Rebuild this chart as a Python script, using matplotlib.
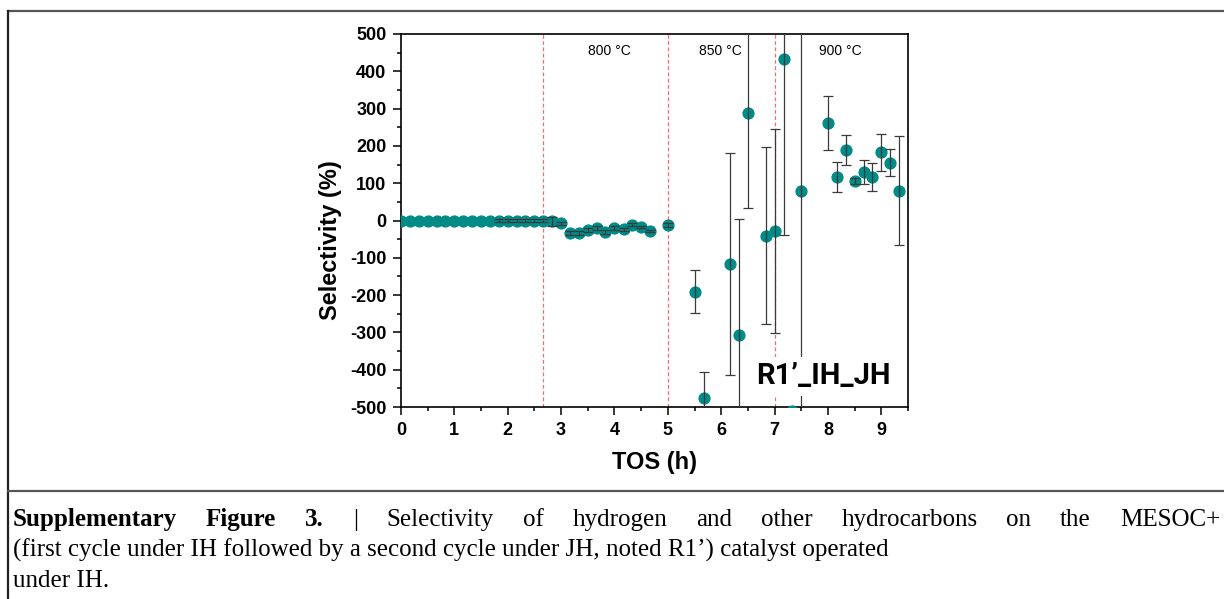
import matplotlib
matplotlib.use('Agg')
import matplotlib.pyplot as plt
from matplotlib.lines import Line2D
from matplotlib.ticker import MultipleLocator

plt.rcParams['axes.unicode_minus'] = False

# data
tos_h = [0.00, 0.17, 0.33, 0.50, 0.67, 0.83, 1.00, 1.17, 1.33, 1.50, 1.67,
         1.83, 2.00, 2.17, 2.33, 2.50, 2.67, 2.83, 3.00, 3.17, 3.33, 3.50,
         3.67, 3.83, 4.00, 4.17, 4.33, 4.50, 4.67, 5.00, 5.50, 5.67, 6.17,
         6.33, 6.50, 6.83, 7.00, 7.17, 7.33, 7.50, 8.00, 8.17, 8.33, 8.50,
         8.67, 8.83, 9.00, 9.17, 9.33]
selectivity = [0, 0, 0, 0, 0, 0, 0, 0, 0, 0, 0,
               0, 0, 0, 0, 0, 0, -2, -8, -33, -33, -26,
               -20, -30, -21, -24, -11, -18, -29, -12, -191, -475, -116,
               -306, 289, -41, -29, 433, -510, 79, 261, 116, 189, 107,
               130, 116, 183, 155, 80]
sel_err = [0, 0, 0, 0, 0, 0, 0, 0, 0, 0, 0,
           5, 5, 5, 5, 5, 5, 12, 4, 5, 5, 5,
           5, 5, 5, 5, 3, 3, 3, 6, 58, 70, 297,
           310, 255, 237, 273, 472, 0, 620, 73, 40, 40, 8,
           33, 37, 50, 36, 146]

step_changes = [2.67, 5.0, 7.0]
temp_labels = ['800 °C', '850 °C', '900 °C']
temp_label_x = [3.9, 5.98, 8.23]

caption_bold = 'Supplementary Figure 3.'
caption_lines = ['| Selectivity of hydrogen and other hydrocarbons on the MESOC+',
                 '(first cycle under IH followed by a second cycle under JH, noted R1’) catalyst operated',
                 'under IH.']

teal = '#008b87'
W, H = 1224, 599

fig = plt.figure(figsize=(12.24, 5.99), dpi=100)
ax = fig.add_axes([401/W, 1-407/H, 507/W, 373/H])

for xv in step_changes:
    ax.axvline(xv, color='#f07070', lw=0.9, ls=(0, (3, 2)), zorder=1)

ax.plot(tos_h, selectivity, 'o', color=teal, ms=7.8, mec=teal, zorder=3)
ex = [x for x, e in zip(tos_h, sel_err) if e > 0]
ey = [y for y, e in zip(selectivity, sel_err) if e > 0]
ee = [e for e in sel_err if e > 0]
ax.errorbar(ex, ey, yerr=ee, fmt='none', ecolor='#3a3a3a',
            elinewidth=0.9, capsize=3.5, capthick=0.9, zorder=4)

for lab, xl in zip(temp_labels, temp_label_x):
    ax.text(xl, 455, lab, ha='center', va='center', fontsize=10,
            family='Liberation Sans')

ax.text(7.92, -418, 'R1’_IH_JH', ha='center', va='center', fontsize=21,
        fontweight='bold', family='Roboto', zorder=6,
        bbox=dict(facecolor='white', edgecolor='none', pad=4))

ax.set_xlim(0, 9.5)
ax.set_ylim(-500, 500)
ax.xaxis.set_major_locator(MultipleLocator(1))
ax.xaxis.set_minor_locator(MultipleLocator(0.5))
ax.yaxis.set_major_locator(MultipleLocator(100))
ax.yaxis.set_minor_locator(MultipleLocator(50))
ax.tick_params(which='both', direction='out', top=False, right=False, width=1.1)
ax.tick_params(which='major', length=5.5, pad=5)
ax.tick_params(which='minor', length=3)
for s in ax.spines.values():
    s.set_linewidth(1.2)

for lbl in ax.get_xticklabels() + ax.get_yticklabels():
    lbl.set_family('Liberation Sans')
    lbl.set_fontweight('bold')
    lbl.set_fontsize(13)

ax.set_xlabel('TOS (h)', fontsize=17, fontweight='bold', family='Liberation Sans', labelpad=9)
ax.set_ylabel('Selectivity (%)', fontsize=17, fontweight='bold', family='Liberation Sans')
ax.yaxis.set_label_coords(-0.116, 0.448)

# table-like frame around figure and caption
fig.add_artist(Line2D([8/W, 1], [1-11/H, 1-11/H], color='#555555', lw=1.6))
fig.add_artist(Line2D([8/W, 8/W], [0, 1-11/H], color='#222222', lw=1.6))
fig.add_artist(Line2D([8/W, 1], [1-491/H, 1-491/H], color='#555555', lw=1.6))

# caption, first line justified to the full width
cap_kw = dict(family='Liberation Serif', fontsize=18, va='baseline', ha='left')
fig.canvas.draw()
rend = fig.canvas.get_renderer()
words = [(w, 'bold') for w in caption_bold.split()] + [(w, 'normal') for w in caption_lines[0].split()]
arts = [fig.text(0, 1-526/H, w, fontweight=fw, **cap_kw) for w, fw in words]
widths = [a.get_window_extent(renderer=rend).width for a in arts]
x0, x1 = 13, 1220
gap = (x1 - x0 - sum(widths)) / (len(arts) - 1)
xpos = x0
for a, wd in zip(arts, widths):
    a.set_x(xpos / W)
    xpos += wd + gap
fig.text(x0/W, 1-557/H, caption_lines[1], **cap_kw)
fig.text(x0/W, 1-587/H, caption_lines[2], **cap_kw)

fig.savefig('out.png', dpi=100)
